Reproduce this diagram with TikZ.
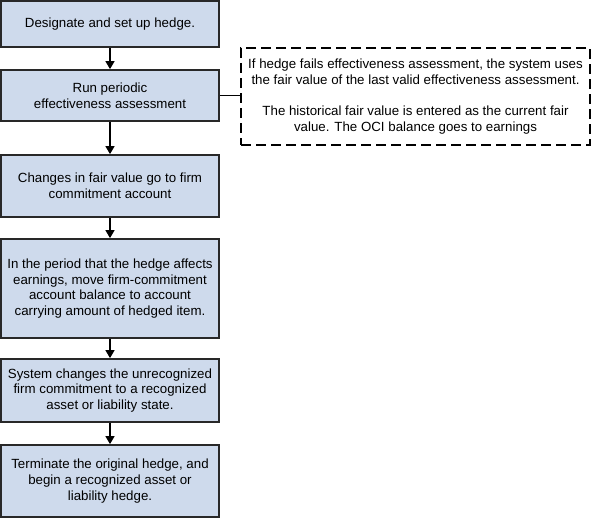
\documentclass[tikz,border=0pt]{standalone}
\usepackage{fontspec}
\setmainfont{Liberation Sans}
\usetikzlibrary{arrows.meta}
\definecolor{boxfill}{RGB}{206,218,236}
\definecolor{boxline}{RGB}{40,40,40}
\begin{document}
\begin{tikzpicture}[x=1pt,y=-1pt,
  stepbox/.style={draw=boxline, line width=1.8pt, fill=boxfill, minimum width=218pt,
    inner sep=0pt, align=center, font=\fontsize{13.3}{15.6}\selectfont},
  notebox/.style={draw=black, line width=1.5pt, dash pattern=on 10pt off 5pt,
    minimum width=349pt, minimum height=97pt, inner sep=0pt, align=center,
    font=\fontsize{13.3}{15.8}\selectfont},
  flow/.style={draw=black, line width=1.5pt, -{Triangle[length=8pt,width=9pt]}}]
\useasboundingbox (0,0) rectangle (591,519);
\node[stepbox, minimum height=46pt] (b1) at (110,24) {Designate and set up hedge.};
\node[stepbox, minimum height=51pt] (b2) at (110,95.5) {Run periodic\\effectiveness assessment};
\node[stepbox, minimum height=62pt] (b3) at (110,186) {Changes in fair value go to firm\\commitment account};
\node[stepbox, minimum height=99pt] (b4) at (110,288.5) {In the period that the hedge affects\\earnings, move firm-commitment\\account balance to account\\carrying amount of hedged item.};
\node[stepbox, minimum height=63pt] (b5) at (110,390.5) {System changes the unrecognized\\firm commitment to a recognized\\asset or liability state.};
\node[stepbox, minimum height=72pt] (b6) at (110,481) {Terminate the original hedge, and\\begin a recognized asset or\\liability hedge.};
\node[notebox] (note) at (415.5,96.5) {If hedge fails effectiveness assessment, the system uses\\the fair value of the last valid effectiveness assessment.\\[15.8pt]The historical fair value is entered as the current fair\\value. The OCI balance goes to earnings};
\draw[flow] (b1) -- (b2);
\draw[flow] (b2) -- (b3);
\draw[flow] (b3) -- (b4);
\draw[flow] (b4) -- (b5);
\draw[flow] (b5) -- (b6);
\draw[line width=1.5pt] (b2.east) -- (b2.east -| note.west);
\end{tikzpicture}
\end{document}
